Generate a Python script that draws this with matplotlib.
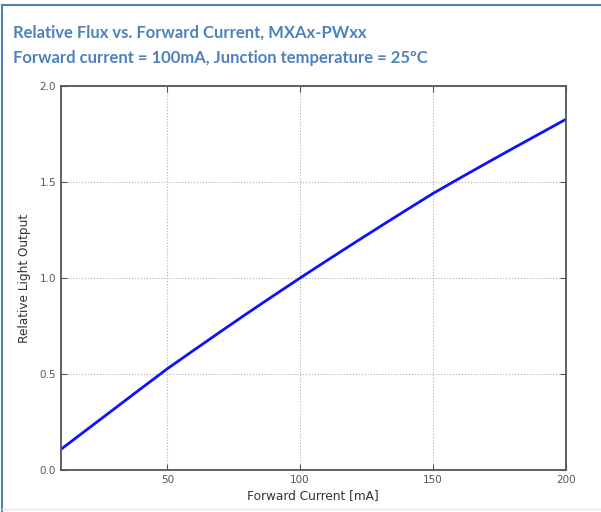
import matplotlib
matplotlib.use("Agg")
import matplotlib.pyplot as plt
from matplotlib.lines import Line2D

# Data
current_ma = [10, 20, 30, 40, 50, 60, 70, 80, 90, 100,
              110, 120, 130, 140, 150, 160, 170, 180, 190, 200]
relative_output = [0.108, 0.213, 0.318, 0.423, 0.527, 0.624, 0.720, 0.815, 0.908, 1.0,
                   1.090, 1.179, 1.267, 1.354, 1.440, 1.519, 1.597, 1.674, 1.750, 1.826]
x_ticks = [50, 100, 150, 200]
y_ticks = [0.0, 0.5, 1.0, 1.5, 2.0]

title_line1 = "Relative Flux vs. Forward Current, MXAx-PWxx"
title_line2 = "Forward current = 100mA, Junction temperature = 25ºC"

fig = plt.figure(figsize=(6.01, 5.12), dpi=100)
fig.patch.set_facecolor("white")

border = "#4F81BD"
fig.add_artist(Line2D([0.004, 0.004], [0.0, 0.99], transform=fig.transFigure,
                      color=border, lw=1.5))
fig.add_artist(Line2D([0.004, 1.0], [0.99, 0.99], transform=fig.transFigure,
                      color=border, lw=1.5))
fig.add_artist(Line2D([0.004, 1.0], [0.005, 0.005], transform=fig.transFigure,
                      color="#E4E6EC", lw=1.0))

fig.text(0.022, 1 - 38 / 512, title_line1, color=border, fontsize=12,
         fontweight="bold", family=["Lato", "DejaVu Sans"], va="baseline")
fig.text(0.022, 1 - 63 / 512, title_line2, color=border, fontsize=12,
         fontweight="bold", family=["Lato", "DejaVu Sans"], va="baseline")

ax = fig.add_axes([61 / 601, 42 / 512, (565.7 - 61) / 601, (470 - 86) / 512])
ax.plot(current_ma, relative_output, color="#1010FF", lw=2)
ax.set_xlim(10, 200)
ax.set_ylim(0.0, 2.0)
ax.set_xticks(x_ticks)
ax.set_yticks(y_ticks)
ax.set_yticklabels([f"{v:.1f}" for v in y_ticks])
ax.grid(True, linestyle=":", color="#B0B0B0", lw=0.8)
ax.tick_params(direction="in", length=4, labelsize=7.5, colors="#555555",
               top=True, right=True)
for s in ax.spines.values():
    s.set_color("#555555")
    s.set_linewidth(1.3)
ax.set_xlabel("Forward Current [mA]", fontsize=8.7, color="#333333", labelpad=3)
ax.set_ylabel("Relative Light Output", fontsize=8.7, color="#333333", labelpad=6)

fig.savefig("out.png", dpi=100)
